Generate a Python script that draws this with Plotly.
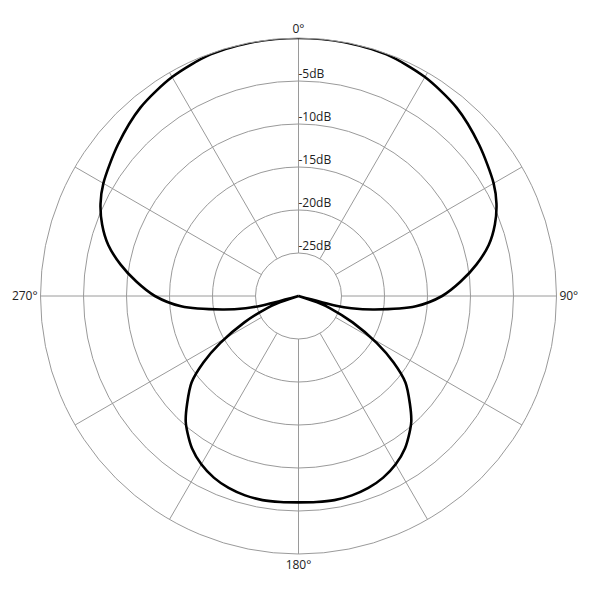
import plotly.graph_objs as go

# polar response, degrees clockwise from the front (0 = top)
angles = [0, 10, 20, 30, 40, 50, 60, 65, 70, 75, 80, 85, 90, 95, 100, 103, 104.5, 106, 107.5,
          109, 111, 116, 121, 125, 129, 134, 138, 141, 145, 150, 155, 160, 165, 170, 175, 180,
          185, 190, 195, 200, 205, 210, 215, 219, 222, 226, 231, 235, 239, 244, 249, 251,
          252.5, 254, 255.5, 257, 260, 265, 270, 275, 280, 285, 290, 295, 300, 310, 320,
          330, 340, 350, 360]
levels_db = [0, 0, -0.1, -0.6, -1.4, -2.6, -3.8, -4.6, -5.7, -7.1, -9.0, -11.1, -13.3, -16.3, -21.0, -23.7, -25.5, -30, -30,
             -27.4, -26.1, -23.0, -19.4, -16.5, -14.0, -12.0, -10.4, -9.5, -8.4, -7.4, -6.7, -6.25, -6.0, -5.9, -5.95, -6.0,
             -5.95, -5.9, -6.0, -6.25, -6.7, -7.4, -8.4, -9.5, -10.4, -12.0, -14.0, -16.5, -19.4, -23.0, -26.1, -27.4,
             -30, -30, -25.5, -23.7, -21.0, -16.3, -13.3, -11.1, -9.0, -7.1, -5.7, -4.6, -3.8, -2.6, -1.4,
             -0.6, -0.1, 0, 0]

ring_db = [-25, -20, -15, -10, -5]
ring_labels = ['-25dB', '-20dB', '-15dB', '-10dB', '-5dB']
spoke_angles = [0, 30, 60, 90, 120, 150, 180, 210, 240, 270, 300, 330]
compass_vals = [0, 90, 180, 270]
compass_text = ['0°', '90°', '180°', '270°']

grid_col = '#9a9a9a'
font = dict(family='Open Sans, Noto Sans, sans-serif', size=12, color='#222222')

# spokes only run from the innermost ring out to the edge
spoke_r = []
spoke_t = []
for a in spoke_angles:
    spoke_r += [ring_db[0], 0, None]
    spoke_t += [a, a, None]

spokes = go.Scatterpolar(
    r=spoke_r, theta=spoke_t, mode='lines',
    line=dict(color=grid_col, width=1),
    hoverinfo='skip', showlegend=False
)

labels = go.Scatterpolar(
    r=ring_db, theta=[0] * len(ring_db), mode='text',
    text=ring_labels, textposition='top right',
    textfont=font, hoverinfo='skip', showlegend=False
)

pattern = go.Scatterpolar(
    r=levels_db, theta=angles, mode='lines',
    line=dict(color='black', width=2.6, shape='spline', smoothing=0.8),
    showlegend=False
)

fig = go.Figure(data=[spokes, pattern, labels])
fig.update_layout(
    width=600, height=600,
    paper_bgcolor='white',
    margin=dict(l=32, r=51, t=30, b=54),
    font=font,
    polar=dict(
        bgcolor='white',
        radialaxis=dict(
            range=[-30, 0], tickvals=ring_db, showticklabels=False, ticks='',
            showline=False, showgrid=True, gridcolor=grid_col, gridwidth=1, angle=90
        ),
        angularaxis=dict(
            rotation=90, direction='clockwise',
            tickvals=compass_vals, ticktext=compass_text, ticks='',
            showgrid=False, showline=True, linecolor=grid_col, linewidth=1,
            tickfont=font
        )
    )
)

fig.write_html("out.html")
